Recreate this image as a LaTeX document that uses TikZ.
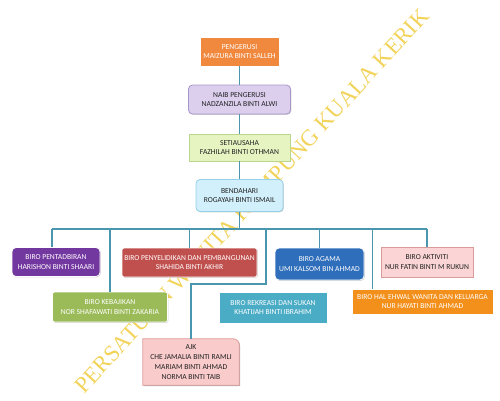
\documentclass[tikz,border=0pt]{standalone}
\usepackage{fontspec}
\setmainfont{Carlito}
\newfontfamily\markfont{Liberation Serif}
\usetikzlibrary{shadows, backgrounds}

\definecolor{linkteal}{HTML}{4A96AE}
\definecolor{markyellow}{HTML}{F2D35A}
\definecolor{darktext}{HTML}{222222}
\definecolor{pengorange}{HTML}{F0883E}
\definecolor{naiblilac}{HTML}{DCCFEE}
\definecolor{naibedge}{HTML}{A896C8}
\definecolor{setiagreen}{HTML}{E6F4C2}
\definecolor{setiaedge}{HTML}{B9D68A}
\definecolor{bendcyan}{HTML}{D2F0FB}
\definecolor{bendedge}{HTML}{93D0EA}
\definecolor{pentadpurple}{HTML}{7337A0}
\definecolor{penyelred}{HTML}{C0504D}
\definecolor{agamablue}{HTML}{2F6EBB}
\definecolor{aktivpink}{HTML}{FBD5D5}
\definecolor{aktivedge}{HTML}{D99A9A}
\definecolor{kebajgreen}{HTML}{9BBB59}
\definecolor{rekreteal}{HTML}{4BACC6}
\definecolor{halehorange}{HTML}{F3901C}
\definecolor{ajkpink}{HTML}{F9CBCB}
\definecolor{ajkedge}{HTML}{DE9A9A}

\tikzstyle{boxtext} = [
    rectangle,
    minimum height=29pt,
    align=center,
    inner sep=1pt,
    font=\fontsize{7.6}{9.8}\selectfont,
    text=darktext
]
\tikzstyle{box} = [
    boxtext,
    draw=white,
    line width=0.8pt,
    drop shadow={shadow xshift=0.8pt, shadow yshift=-0.8pt, opacity=0.35}
]
\tikzstyle{whitebox} = [box, text=white]
\tikzstyle{link} = [draw=linkteal, line width=1.1pt]

\begin{document}
\begin{tikzpicture}[x=1pt, y=1pt, node distance=48pt]
\useasboundingbox (0,0) rectangle (500,-400);

\node (pengerusi) [whitebox, fill=pengorange, minimum width=79pt] at (239.5,-51.5)
{PENGERUSI\\MAIZURA BINTI SALLEH};

\node (naib) [box, rounded corners=4pt, fill=naiblilac, draw=naibedge, minimum width=102pt, below of=pengerusi]
{NAIB PENGERUSI\\NADZANZILA BINTI ALWI};

\node (setiausaha) [box, fill=setiagreen, draw=setiaedge, minimum width=101pt, minimum height=27pt, below of=naib]
{SETIAUSAHA\\FAZHILAH BINTI OTHMAN};

\node (bendahari) [box, rounded corners=4pt, fill=bendcyan, draw=bendedge, minimum width=87pt, minimum height=32pt, below of=setiausaha]
{BENDAHARI\\ROGAYAH BINTI ISMAIL};

% biro
\node (pentadbiran) [whitebox, rounded corners=4pt, fill=pentadpurple, minimum width=88pt] at (56,-262)
{BIRO PENTADBIRAN\\HARISHON BINTI SHAARI};

\node (penyelidikan) [whitebox, rounded corners=2pt, fill=penyelred, minimum width=135pt] at (189.5,-262.5)
{BIRO PENYELIDIKAN DAN PEMBANGUNAN\\SHAHIDA BINTI AKHIR};

\node (agama) [whitebox, rounded corners=4pt, fill=agamablue, minimum width=89pt, minimum height=32pt] at (319.5,-264)
{BIRO AGAMA\\UMI KALSOM BIN AHMAD};

\node (aktiviti) [box, fill=aktivpink, draw=aktivedge, minimum width=92pt, minimum height=30pt] at (427,-262)
{BIRO AKTIVITI\\NUR FATIN BINTI M RUKUN};

\node (kebajikan) [whitebox, rounded corners=2pt, fill=kebajgreen, minimum width=115pt, minimum height=30pt] at (110,-307)
{BIRO KEBAJIKAN\\NOR SHAFAWATI BINTI ZAKARIA};

\node (rekreasi) [whitebox, fill=rekreteal, minimum width=108pt, minimum height=31pt] at (273,-307.5)
{BIRO REKREASI DAN SUKAN\\KHATIJAH BINTI IBRAHIM};

\node (halehwal) [whitebox, fill=halehorange, minimum width=141pt, minimum height=25pt] at (422.5,-301.5)
{BIRO HAL EHWAL WANITA DAN KELUARGA\\NUR HAYATI BINTI AHMAD};

\node (ajk) [boxtext, minimum width=96pt, minimum height=46pt] at (191,-362)
{AJK\\CHE JAMALIA BINTI RAMLI\\MARIAM BINTI AHMAD\\NORMA BINTI TAIB};

\begin{pgfonlayer}{background}
\node (watermark) [rotate=47.5, font=\markfont\fontsize{23}{23}\selectfont, text=markyellow] at (252,-201)
{PERSATUAN WANITA KAMPUNG KUALA KERIK};
\fill [black, opacity=0.3] ([shift={(0.8pt,-0.8pt)}]ajk.south west) -- ([shift={(0.8pt,-0.8pt)}]ajk.north west)
    -- ([shift={(-5.2pt,-0.8pt)}]ajk.north east) arc[start angle=90, end angle=0, radius=6pt]
    -- ([shift={(0.8pt,-0.8pt)}]ajk.south east) -- cycle;
\filldraw [fill=ajkpink, draw=ajkedge, line width=0.8pt] (ajk.south west) -- (ajk.north west)
    -- ([xshift=-6pt]ajk.north east) arc[start angle=90, end angle=0, radius=6pt]
    -- (ajk.south east) -- cycle;
\end{pgfonlayer}

% connectors
\draw [link] (pengerusi) -- (naib);
\draw [link] (naib) -- (setiausaha);
\draw [link] (setiausaha) -- (bendahari);

\coordinate (busleft) at (52,-229);
\coordinate (busright) at (427,-229);
\coordinate (ajkturn) at (266,-284);
\coordinate (halehwaltop) at ([xshift=21pt]halehwal.north west);

\draw [link] (busleft) -- (busright);
\draw [link] (bendahari) -- (bendahari |- busleft);
\draw [link] (busleft) -- (busleft |- pentadbiran.north);
\draw [link] (kebajikan.north) -- (kebajikan.north |- busleft);
\draw [link] (penyelidikan.north) -- (penyelidikan.north |- busleft);
\draw [link] (ajk.north) -- (ajk.north |- ajkturn) -- (ajkturn) -- (ajkturn |- busleft);
\draw [link] (agama.north) -- (agama.north |- busleft);
\draw [link] (halehwaltop) -- (halehwaltop |- busleft);
\draw [link] (busright) -- (aktiviti.north);

\end{tikzpicture}
\end{document}
